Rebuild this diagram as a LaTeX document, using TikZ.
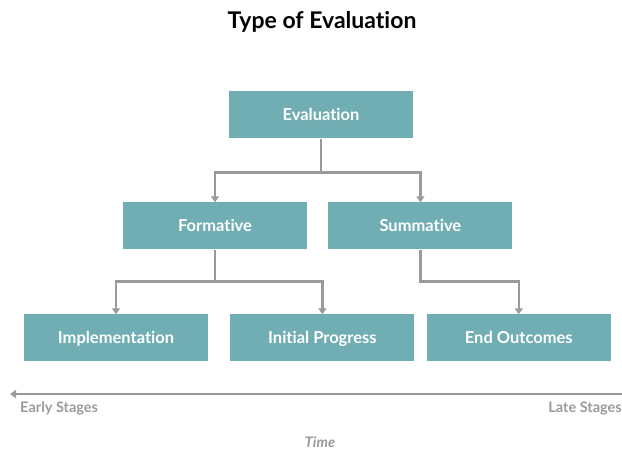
\documentclass[tikz,border=0pt]{standalone}
\usepackage{fontspec}
\setmainfont{Lato}[Ligatures=NoCommon]
\usetikzlibrary{positioning,arrows.meta}
\definecolor{tealbox}{HTML}{70AEB4}
\definecolor{linegray}{HTML}{9A9A9C}
\tikzset{tbox/.style={rectangle,fill=tealbox,minimum width=184pt,minimum height=47pt,inner sep=0pt,text height=1.05em,text depth=0em,text=white,font=\bfseries\fontsize{16.5}{18}\selectfont},
	 tlink/.style={draw=linegray,line width=2.5pt,line join=miter,-{Triangle[width=8pt,length=6pt]}},
	 tlabel/.style={text=linegray,font=\bfseries\fontsize{14.5}{16}\selectfont,inner sep=0pt}
	 }
\begin{document}
\begin{tikzpicture}[x=1pt,y=-1pt] % evaluation types along time
	\useasboundingbox (0,0) rectangle (622,449);
	\node (title) at (322,22) {\bfseries\fontsize{23}{26}\selectfont Type of Evaluation};
	\node[tbox] (ev) at (321,115) {Evaluation};
	\node[tbox] (form) at (215,226) {Formative};
	\node[tbox] (summ) [right=21pt of form] {Summative};
	\node[tbox] (impl) at (116,338) {Implementation};
	\node[tbox] (init) [right=22pt of impl] {Initial Progress};
	\node[tbox] (endo) [right=12pt of init] {End Outcomes};
	\draw[tlink] (ev.south) -- ++(0,34) -| (form.north);
	\draw[tlink] (ev.south) -- ++(0,34) -| (summ.north);
	\draw[tlink] (form.south) -- ++(0,32) -| (impl.north);
	\draw[tlink] (form.south) -- ++(0,32) -| (init.north);
	\draw[tlink] (summ.south) -- ++(0,32) -| (endo.north);
	\coordinate (late) at (622,394);
	\coordinate (early) at (10,394);
	\draw[tlink] (late) -- (early);
	\node[tlabel,anchor=north west] (es) at (20,402) {Early Stages};
	\node[tlabel,anchor=north east] (ls) at (622,402) {Late Stages};
	\node[tlabel] (time) at (320,442) {\itshape Time};
     \end{tikzpicture}
\end{document}
